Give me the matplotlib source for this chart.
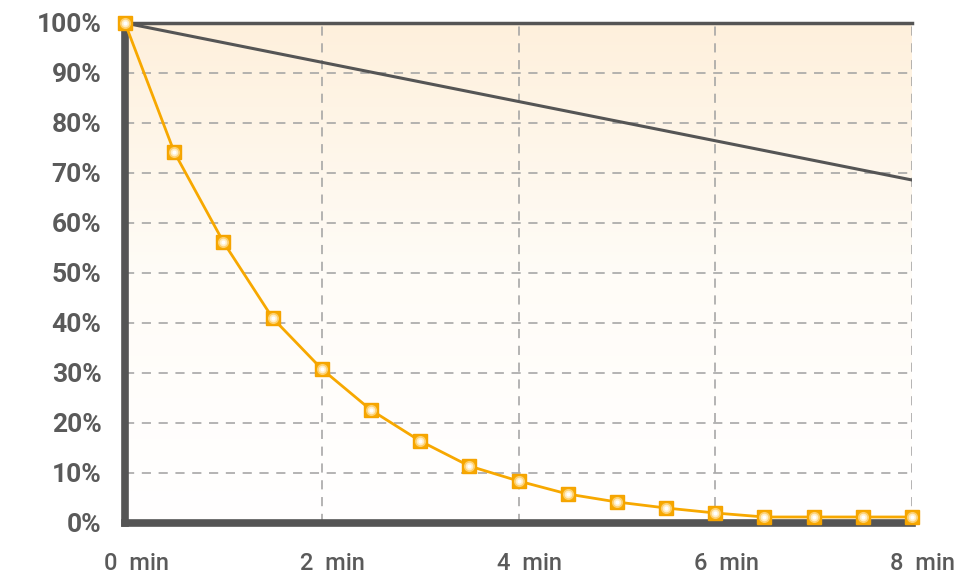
import matplotlib

matplotlib.use("Agg")
import matplotlib.pyplot as plt
import matplotlib.transforms as mtransforms
import numpy as np
from matplotlib.colors import LinearSegmentedColormap

plt.rcParams.update({"font.family": ["Roboto", "DejaVu Sans"]})

DARK = "#555555"
ORANGE = "#F7A800"
TEXT = "#5A5A5A"

# data
minutes = [0, 0.5, 1, 1.5, 2, 2.5, 3, 3.5, 4, 4.5, 5, 5.5, 6, 6.5, 7, 7.5, 8]
retention = [100, 74.2, 56.2, 41.0, 30.8, 22.6, 16.4, 11.4, 8.4, 5.8, 4.2,
             3.0, 2.0, 1.2, 1.2, 1.2, 1.2]
ref_x = [0, 8]
ref_y = [100, 68.6]
x_ticks = [0, 2, 4, 6, 8]
x_labels = [f"{t}  min" for t in x_ticks]
y_ticks = list(range(0, 101, 10))
y_labels = [f"{t}%" for t in y_ticks]

fig = plt.figure(figsize=(9.69, 5.78), dpi=100)
ax = fig.add_axes([125 / 969, 55 / 578, 787 / 969, 500 / 578])
ax.set_xlim(0, 8)
ax.set_ylim(0, 100)

# soft orange-to-white background
cmap = LinearSegmentedColormap.from_list("bg", ["#FFFFFF", "#FFFCF7", "#FEF0DC"])
grad = np.linspace(0, 1, 256).reshape(-1, 1)
ax.imshow(grad, aspect="auto", cmap=cmap, origin="lower",
          extent=[0, 8, 0, 100], zorder=0)

ax.set_xticks(x_ticks, x_labels)
ax.set_yticks(y_ticks, y_labels)
ax.grid(True, color="#A0A0A0", ls=(0, (6, 5)), lw=1.1, zorder=1)

ax.plot(ref_x, ref_y, color=DARK, lw=2.2, zorder=3)
ax.plot(minutes, retention, color=ORANGE, lw=2, zorder=4, clip_on=False,
        marker="s", ms=10.5, mfc=ORANGE, mec="#F5A300", mew=1)
ax.plot(minutes, retention, ls="none", marker="o", ms=8, mfc="#FFD98A",
        mec="none", alpha=0.8, zorder=5, clip_on=False)
ax.plot(minutes, retention, ls="none", marker="o", ms=5.5, mfc="#FFF1D2",
        mec="none", alpha=0.9, zorder=6, clip_on=False)
ax.plot(minutes, retention, ls="none", marker="o", ms=3, mfc="white",
        mec="none", zorder=7, clip_on=False)

for side in ["left", "bottom"]:
    ax.spines[side].set_linewidth(5.5)
    ax.spines[side].set_color(DARK)
ax.spines["top"].set_linewidth(2.5)
ax.spines["top"].set_color(DARK)
ax.spines["right"].set_visible(False)

ax.tick_params(length=0)
ax.tick_params(axis="y", pad=17, labelsize=19, labelcolor=TEXT)
ax.tick_params(axis="x", pad=21, labelsize=17, labelcolor=TEXT)
for lab in ax.get_yticklabels():
    lab.set_fontweight("bold")
shift = mtransforms.ScaledTranslation(11 / 100, 0, fig.dpi_scale_trans)
for lab in ax.get_xticklabels():
    lab.set_fontweight("medium")
    lab.set_transform(lab.get_transform() + shift)

fig.savefig("out.png", dpi=100)
